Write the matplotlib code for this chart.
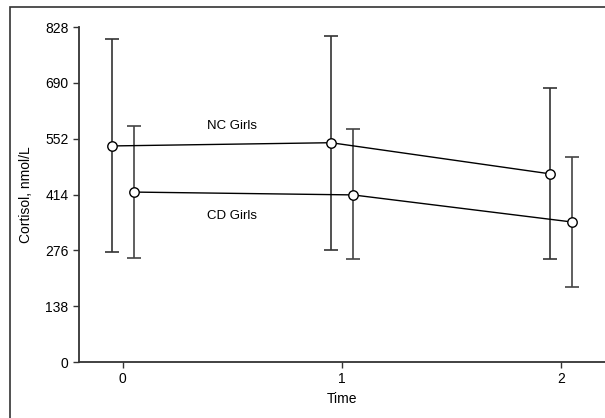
import numpy as np
import matplotlib.pyplot as plt
from matplotlib.patches import Rectangle

plt.rcParams['font.family'] = ['Liberation Sans', 'DejaVu Sans']

times = [0, 1, 2]
nc_mean = [534, 542, 465]
nc_upper = [798, 806, 677]
nc_lower = [273, 276, 255]
cd_mean = [420, 413, 346]
cd_upper = [584, 575, 507]
cd_lower = [256, 254, 186]
yticks = [0, 138, 276, 414, 552, 690, 828]

fig = plt.figure(figsize=(6.05, 4.18), dpi=100)
# outer frame round the whole figure
fig.patches.append(Rectangle((10/605, -0.1), 1.2, 1.1 - 7/418,
                             transform=fig.transFigure, fill=False,
                             edgecolor='#333333', linewidth=1.2))
ax = fig.add_axes([79/605, 1 - 362/418, 1 - 79/605, 335/418])

off = 0.05
x = np.array(times)
nc = np.array(nc_mean)
cd = np.array(cd_mean)
ax.errorbar(x - off, nc, yerr=[nc - np.array(nc_lower), np.array(nc_upper) - nc],
            fmt='none', ecolor='#333333', elinewidth=1.2, capsize=4.8, capthick=1.2)
ax.errorbar(x + off, cd, yerr=[cd - np.array(cd_lower), np.array(cd_upper) - cd],
            fmt='none', ecolor='#444444', elinewidth=1.2, capsize=4.8, capthick=1.2)
ax.plot(x - off, nc, color='black', lw=1, marker='o', ms=6.8,
        mfc='white', mec='black', mew=1, zorder=3)
ax.plot(x + off, cd, color='black', lw=1, marker='o', ms=6.8,
        mfc='white', mec='black', mew=1, zorder=3)

ax.text(0.5, 583, 'NC Girls', fontsize=9.5, ha='center', va='center')
ax.text(0.5, 360, 'CD Girls', fontsize=9.5, ha='center', va='center')

ax.set_xlim(-0.2, 2.2)
ax.set_ylim(0, 828)
ax.set_xticks(times)
ax.set_yticks(yticks)
ax.tick_params(labelsize=10, length=4, width=1, color='#333333')
for s in ['top', 'right']:
    ax.spines[s].set_visible(False)
for s in ['left', 'bottom']:
    ax.spines[s].set_color('#333333')
    ax.spines[s].set_linewidth(1.3)
ax.set_xlabel('Time', fontsize=10, labelpad=4)
ax.set_ylabel('Cortisol, nmol/L', fontsize=10, labelpad=9)

fig.savefig('out.png', dpi=100)
